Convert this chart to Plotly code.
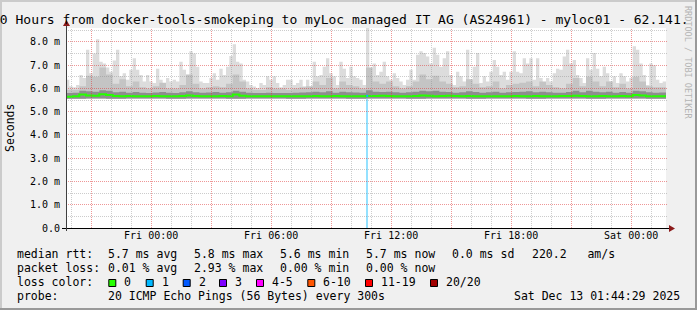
import math
import plotly.graph_objects as go
import pandas as pd

# ---------------- data ----------------
START = pd.Timestamp("2025-12-11 19:44:29")
END = pd.Timestamp("2025-12-13 01:44:29")
Y_TOP = 8.6  # ms

# max ping per 10 minutes (ms)
smoke_max = [
    6.38, 6.10, 6.05, 6.15, 6.58, 6.45, 7.67, 6.65, 7.50, 8.12,
    7.15, 7.07, 6.90, 6.72, 7.20, 7.67, 6.52, 6.65, 6.38, 6.80,
    7.30, 6.80, 6.58, 6.30, 6.58, 6.30, 6.23, 6.85, 6.38, 6.15,
    6.45, 6.30, 6.38, 6.30, 7.15, 6.80, 6.58, 7.60, 7.50, 6.93,
    6.30, 6.23, 6.23, 6.45, 6.65, 6.38, 6.85, 6.58, 6.93, 7.40,
    7.90, 7.15, 7.07, 6.38, 6.30, 6.15, 6.08, 6.02, 6.23, 6.15,
    6.52, 6.38, 6.52, 6.23, 6.05, 6.15, 6.38, 6.38, 6.15, 6.23,
    6.38, 6.10, 6.38, 6.05, 7.15, 6.52, 6.58, 6.93, 7.30, 6.65,
    6.52, 6.15, 7.15, 6.85, 6.45, 6.93, 6.52, 6.45, 6.38, 6.15,
    8.60, 6.45, 7.07, 6.58, 6.72, 7.15, 6.52, 6.38, 6.65, 6.45,
    6.30, 6.15, 6.38, 6.80, 6.38, 7.45, 7.60, 7.52, 7.37, 7.07,
    7.75, 7.45, 6.93, 7.30, 7.60, 6.58, 6.15, 6.72, 6.52, 6.30,
    7.67, 6.38, 6.93, 7.52, 6.23, 6.52, 6.30, 6.72, 7.22, 6.93,
    6.58, 6.72, 6.38, 6.72, 7.60, 6.72, 6.65, 7.30, 7.07, 7.30,
    6.38, 7.30, 6.45, 6.15, 6.45, 6.30, 6.65, 6.85, 6.80, 7.37,
    7.67, 7.07, 7.22, 6.58, 6.45, 6.23, 7.30, 6.80, 7.52, 6.85,
    6.52, 6.93, 6.65, 6.30, 6.52, 6.23, 6.65, 6.52, 6.30, 6.45,
    7.82, 7.67, 7.07, 6.58, 6.15, 7.07, 7.00, 6.38, 6.23, 6.30,
]

# inner smoke envelope per 20 minutes (ms)
smoke_mid = [
    5.95, 5.95, 6.10, 6.55, 6.50, 6.90, 6.60, 6.20, 6.40, 6.10,
    6.30, 6.05, 6.00, 6.10, 6.25, 6.00, 6.00, 6.15, 6.60, 6.20,
    6.00, 6.05, 6.10, 6.05, 6.20, 6.60, 6.30, 6.00, 5.95, 5.95,
    6.05, 6.00, 6.00, 5.95, 6.00, 6.05, 6.10, 6.30, 6.15, 6.45,
    6.00, 6.30, 6.15, 6.10, 6.00, 6.90, 6.30, 6.20, 6.30, 6.10,
    6.00, 6.10, 6.30, 6.60, 6.40, 6.55, 6.30, 6.20, 6.05, 6.10,
    6.40, 6.20, 6.05, 6.10, 6.30, 6.00, 6.15, 6.20, 6.25, 6.30,
    6.10, 6.30, 6.15, 6.05, 6.00, 6.20, 6.45, 6.10, 6.50, 6.30,
    6.10, 6.30, 6.05, 6.20, 6.00, 6.50, 6.30, 6.10, 6.05, 6.05,
]

# dense smoke core per 20 minutes (ms)
smoke_dark = [
    5.80, 5.82, 5.90, 5.88, 5.86, 5.92, 5.90, 5.84, 5.86, 5.82,
    5.85, 5.82, 5.80, 5.83, 5.85, 5.82, 5.81, 5.84, 5.88, 5.84,
    5.82, 5.83, 5.85, 5.82, 5.84, 5.90, 5.86, 5.82, 5.80, 5.80,
    5.82, 5.80, 5.81, 5.80, 5.82, 5.83, 5.84, 5.86, 5.84, 5.88,
    5.82, 5.86, 5.84, 5.83, 5.82, 5.92, 5.86, 5.85, 5.86, 5.84,
    5.82, 5.84, 5.86, 5.90, 5.88, 5.90, 5.86, 5.85, 5.82, 5.84,
    5.88, 5.85, 5.82, 5.84, 5.86, 5.82, 5.84, 5.85, 5.86, 5.88,
    5.84, 5.86, 5.84, 5.82, 5.82, 5.85, 5.90, 5.84, 5.90, 5.86,
    5.84, 5.86, 5.82, 5.85, 5.82, 5.90, 5.88, 5.84, 5.82, 5.83,
]

# min ping per hour (ms)
smoke_min = [
    5.56, 5.57, 5.56, 5.57, 5.57, 5.56, 5.57, 5.57, 5.56, 5.57,
    5.57, 5.56, 5.57, 5.57, 5.56, 5.57, 5.57, 5.56, 5.57, 5.57,
    5.56, 5.57, 5.57, 5.56, 5.57, 5.57, 5.56, 5.57, 5.57, 5.56,
]

# median rtt per 20 minutes (ms)
median_rtt = [
    5.64, 5.66, 5.74, 5.70, 5.69, 5.75, 5.72, 5.68, 5.66, 5.68,
    5.67, 5.66, 5.66, 5.68, 5.67, 5.66, 5.67, 5.68, 5.70, 5.68,
    5.67, 5.66, 5.67, 5.68, 5.67, 5.74, 5.69, 5.66, 5.66, 5.67,
    5.67, 5.66, 5.66, 5.67, 5.66, 5.66, 5.67, 5.68, 5.66, 5.67,
    5.68, 5.67, 5.67, 5.66, 5.67, 5.68, 5.68, 5.69, 5.68, 5.67,
    5.66, 5.67, 5.68, 5.70, 5.69, 5.67, 5.68, 5.69, 5.68, 5.67,
    5.68, 5.67, 5.66, 5.67, 5.66, 5.67, 5.66, 5.68, 5.66, 5.67,
    5.68, 5.67, 5.66, 5.67, 5.68, 5.68, 5.69, 5.68, 5.67, 5.67,
    5.68, 5.67, 5.67, 5.68, 5.67, 5.72, 5.70, 5.67, 5.66, 5.67,
]

loss_time = ["2025-12-12 10:48:00"]
loss_count = [1]
loss_median = [5.68]

y_tick_vals = [0, 1, 2, 3, 4, 5, 6, 7, 8]
y_tick_text = ["0.0", "1.0 m", "2.0 m", "3.0 m", "4.0 m", "5.0 m", "6.0 m", "7.0 m", "8.0 m"]
x_tick_vals = ["2025-12-12 00:00", "2025-12-12 06:00", "2025-12-12 12:00",
               "2025-12-12 18:00", "2025-12-13 00:00"]
x_tick_text = ["Fri 00:00", "Fri 06:00", "Fri 12:00", "Fri 18:00", "Sat 00:00"]

loss_labels = ["0", "1", "2", "3", "4-5", "6-10", "11-19", "20/20"]
loss_colors = ["#26ff00", "#00b8ff", "#0059ff", "#7e00ff", "#ff00ff", "#ff5500", "#ff0000", "#a10000"]

title_text = "30 Hours from docker-tools-smokeping to myLoc managed IT AG (AS24961) - myloc01 - 62.141."

# ---------------- layout geometry ----------------
W, H = 697, 310
L, R, T, B = 66, 31, 28, 82
PW, PH = W - L - R, H - T - B
MONO = "DejaVu Sans Mono"
SPAN = (END - START).total_seconds()


def px(x):
    return (x - L) / PW


def py(y):
    return (T + PH - y) / PH


def snap_x(t):
    xp = L + (pd.Timestamp(t) - START).total_seconds() / SPAN * PW
    return px(math.floor(xp) + 0.5)


def snap_y(v):
    yp = T + PH - v / Y_TOP * PH
    return py(math.floor(yp) + 0.5)


def step_xy(values, minutes):
    dt = pd.Timedelta(minutes=minutes)
    xs = [START + i * dt for i in range(len(values))] + [END]
    ys = list(values) + [values[-1]]
    return xs, ys


fig = go.Figure()


def band(lower, lower_min, upper, upper_min, color):
    xl, yl = step_xy(lower, lower_min)
    xu, yu = step_xy(upper, upper_min)
    fig.add_trace(go.Scatter(x=xl, y=yl, mode="lines", line=dict(width=0, shape="hv"),
                             hoverinfo="skip", showlegend=False))
    fig.add_trace(go.Scatter(x=xu, y=yu, mode="lines", line=dict(width=0, shape="hv"),
                             fill="tonexty", fillcolor=color, hoverinfo="skip", showlegend=False))


band(smoke_min, 60, smoke_max, 10, "#dcdcdc")
band(smoke_min, 60, smoke_mid, 20, "#c4c4c4")
band(smoke_min, 60, smoke_dark, 20, "#8e8e8e")

# loss bars (full height)
fig.add_trace(go.Bar(x=pd.to_datetime(loss_time), y=[Y_TOP] * len(loss_time), width=6 * 60 * 1000,
                     marker=dict(color="rgba(0,184,255,0.42)", line=dict(width=0)),
                     hoverinfo="skip", showlegend=False))

# median line
xm, ym = step_xy(median_rtt, 20)
fig.add_trace(go.Scatter(x=xm, y=ym, mode="lines", line=dict(color="#26ff00", width=2, shape="hv"),
                         hoverinfo="skip", showlegend=False))
for t, n, m in zip(loss_time, loss_count, loss_median):
    t0 = pd.Timestamp(t) - pd.Timedelta(minutes=3)
    fig.add_trace(go.Scatter(x=[t0, t0 + pd.Timedelta(minutes=6)], y=[m, m], mode="lines",
                             line=dict(color=loss_colors[n], width=2),
                             hoverinfo="skip", showlegend=False))

RED = "rgba(222,48,48,0.5)"
GREY = "rgba(143,143,143,0.45)"
shapes = []
# grid (drawn above the smoke like rrdtool)
for t in pd.date_range("2025-12-11 20:00", END, freq="1h"):
    xs = snap_x(t)
    shapes.append(dict(type="line", xref="paper", yref="paper", x0=xs, x1=xs, y0=py(228), y1=1,
                       layer="above",
                       line=dict(color=RED if t.hour % 3 == 0 else GREY, width=1, dash="1px,1px")))
for k in range(1, 18):
    ys = snap_y(k * 0.5)
    shapes.append(dict(type="line", xref="paper", yref="paper", x0=px(66), x1=px(668), y0=ys, y1=ys,
                       layer="above",
                       line=dict(color=RED if k % 2 == 0 else GREY, width=1, dash="1px,1px")))

# axes with arrows
shapes.append(dict(type="line", xref="paper", yref="paper", x0=px(62), x1=px(670), y0=py(228.5), y1=py(228.5),
                   line=dict(color="#000000", width=1), layer="above"))
shapes.append(dict(type="line", xref="paper", yref="paper", x0=px(66.5), x1=px(66.5), y0=py(231), y1=py(25),
                   line=dict(color="#404040", width=1), layer="above"))
shapes.append(dict(type="path", xref="paper", yref="paper",
                   path=f"M {px(669)},{py(225)} L {px(675)},{py(228.5)} L {px(669)},{py(232)} Z",
                   fillcolor="#8b1a1a", line=dict(width=0), layer="above"))
shapes.append(dict(type="path", xref="paper", yref="paper",
                   path=f"M {px(63)},{py(26)} L {px(66.5)},{py(20)} L {px(70)},{py(26)} Z",
                   fillcolor="#8b1a1a", line=dict(width=0), layer="above"))

# frame shading
shapes.append(dict(type="rect", xref="paper", yref="paper", x0=px(0), x1=px(2), y0=py(310), y1=py(0),
                   fillcolor="#cbcbcb", line=dict(width=0), layer="below"))
shapes.append(dict(type="rect", xref="paper", yref="paper", x0=px(0), x1=px(697), y0=py(2), y1=py(0),
                   fillcolor="#cbcbcb", line=dict(width=0), layer="below"))
shapes.append(dict(type="rect", xref="paper", yref="paper", x0=px(695), x1=px(697), y0=py(310), y1=py(0),
                   fillcolor="#999999", line=dict(width=0), layer="below"))
shapes.append(dict(type="rect", xref="paper", yref="paper", x0=px(0), x1=px(697), y0=py(310), y1=py(308),
                   fillcolor="#999999", line=dict(width=0), layer="below"))

annotations = []


def text(s, x, y, size=11.5, color="#000000", anchor="left", angle=0):
    annotations.append(dict(text=s, xref="paper", yref="paper", x=px(x), y=py(y), showarrow=False,
                            xanchor=anchor, yanchor="middle", textangle=angle, borderpad=0,
                            font=dict(family=MONO, size=size, color=color)))


text(title_text, -9, 19, size=13)
text("Seconds", 10, 128, size=11.5, anchor="center", angle=-90)
text("RRDTOOL / TOBI OETIKER", 688, 62, size=8.5, color="#b4b4b4", anchor="center", angle=90)

rows = [254, 268, 282, 296]
text("median rtt:", 16, rows[0])
for s, x in [("5.7 ms avg", 107.3), ("5.8 ms max", 192.7), ("5.6 ms min", 279.3),
             ("5.7 ms now", 365), ("0.0 ms sd", 451), ("220.2   am/s", 530.7)]:
    text(s, x, rows[0])
text("packet loss:", 16, rows[1])
for s, x in [("0.01 % avg", 107.3), ("2.93 % max", 192.7), ("0.00 % min", 279.3), ("0.00 % now", 365)]:
    text(s, x, rows[1])
text("loss color:", 16, rows[2])
box_x = [108.3, 145.7, 182.7, 219, 256, 307.3, 365, 430]
for lbl, col, bx in zip(loss_labels, loss_colors, box_x):
    shapes.append(dict(type="rect", xref="paper", yref="paper", x0=px(bx + 0.5), x1=px(bx + 7.5),
                       y0=py(286.5), y1=py(279.5), fillcolor=col, line=dict(color="#000000", width=1)))
    text(lbl, bx + 15, rows[2])
text("probe:", 16, rows[3])
text("20 ICMP Echo Pings (56 Bytes) every 300s", 107.3, rows[3])
text("Sat Dec 13 01:44:29 2025", 513.3, rows[3])

fig.update_layout(
    width=W, height=H, margin=dict(l=L, r=R, t=T, b=B, pad=0),
    paper_bgcolor="#f0f0f0", plot_bgcolor="#ffffff",
    showlegend=False, bargap=0,
    shapes=shapes, annotations=annotations,
    xaxis=dict(type="date", range=[START, END], showgrid=False, zeroline=False, showline=False,
               tickvals=x_tick_vals, ticktext=x_tick_text, ticks="", ticklen=0,
               tickfont=dict(family=MONO, size=10, color="#000000"), fixedrange=True),
    yaxis=dict(range=[0, Y_TOP], showgrid=False, zeroline=False, showline=False,
               tickvals=y_tick_vals, ticktext=y_tick_text, ticks="outside", ticklen=3,
               tickcolor="rgba(0,0,0,0)",
               tickfont=dict(family=MONO, size=10, color="#000000"), fixedrange=True),
)

fig.write_html("out.html")
